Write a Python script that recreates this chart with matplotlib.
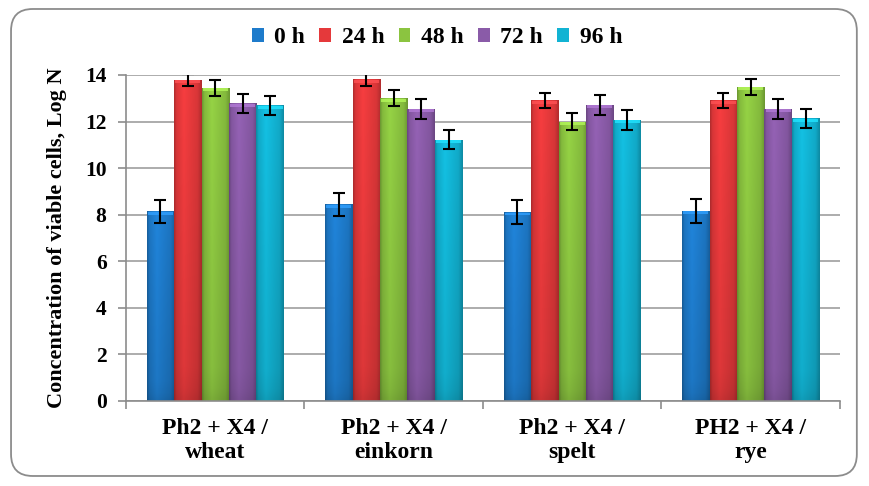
import numpy as np
import matplotlib.pyplot as plt
from matplotlib.patches import FancyBboxPatch, Patch
from matplotlib.colors import to_rgb

groups = ["Ph2 + X4 /\nwheat", "Ph2 + X4 /\neinkorn", "Ph2 + X4 /\nspelt", "PH2 + X4 /\nrye"]
series = ["0 h", "24 h", "48 h", "72 h", "96 h"]
h0 = [8.14, 8.44, 8.11, 8.17]
h24 = [13.79, 13.81, 12.91, 12.91]
h48 = [13.44, 13.00, 12.00, 13.49]
h72 = [12.78, 12.54, 12.73, 12.54]
h96 = [12.69, 11.22, 12.07, 12.14]
e0 = [0.51, 0.50, 0.51, 0.51]
e24 = [0.27, 0.27, 0.31, 0.33]
e48 = [0.35, 0.35, 0.36, 0.35]
e72 = [0.41, 0.41, 0.43, 0.43]
e96 = [0.42, 0.41, 0.43, 0.41]
colors = ["#1E7BCB", "#E5393B", "#8BC440", "#8A5BA8", "#12B3D3"]

values = [h0, h24, h48, h72, h96]
errors = [e0, e24, e48, e72, e96]

plt.rcParams['font.family'] = ['Liberation Serif', 'DejaVu Serif']
plt.rcParams['font.weight'] = 'bold'

fig = plt.figure(figsize=(8.69, 4.86), dpi=100, facecolor="white")
ax = fig.add_axes([0.145, 0.175, 0.8216, 0.6707])

# rounded frame around the whole chart
frame = FancyBboxPatch((0.0127, 0.0206), 0.9733, 0.9609, boxstyle="round,pad=0,rounding_size=0.025",
                       transform=fig.transFigure, facecolor="none", edgecolor="#8C8C8C", lw=1.3,
                       mutation_aspect=869 / 486)
fig.patches.append(frame)

n = len(series)
x = np.arange(len(groups))
w = 1 / (n + 1.5)

# shading profile across the bar width and down its height
xs = np.linspace(0, 1, 40)
fx = np.interp(xs, [0, 0.08, 0.35, 0.85, 1], [0.78, 0.95, 1.08, 0.95, 0.78])
ys = np.linspace(0, 1, 60)
fy = np.interp(ys, [0, 0.9, 0.97, 1], [1.0, 0.9, 0.86, 0.82])

for i in range(n):
    pos = x - 0.5 + 0.75 * w + i * w + w / 2
    bars = ax.bar(pos, values[i], w, color=colors[i], edgecolor="none", zorder=2)
    base = np.array(to_rgb(colors[i]))
    img = np.clip(fy[:, None, None] * fx[None, :, None] * base[None, None, :], 0, 1)
    for b in bars:
        x0 = b.get_x()
        top = b.get_height()
        im = ax.imshow(img, extent=[x0, x0 + w, 0, top], aspect="auto", zorder=2.1,
                       interpolation="bilinear")
        im.set_clip_path(b)
        # bevel highlight at the top
        ax.bar(x0 + w / 2, 0.12, w * 0.92, bottom=top - 0.14,
               color=tuple(np.clip(base * 1.2 + 0.05, 0, 1)), edgecolor="none", zorder=2.2, alpha=0.8)
    ax.errorbar(pos, values[i], yerr=errors[i], fmt="none", ecolor="black", elinewidth=1.5,
                capsize=4, capthick=1.5, zorder=3)

ax.set_xlim(-0.5, len(groups) - 0.5)
ax.set_ylim(0, 14)
ax.set_yticks(np.arange(0, 15, 2))
ax.set_xticks(x)
ax.set_xticklabels(groups, fontsize=17, fontweight="bold", linespacing=1.2)
ax.set_xticks(np.arange(-0.5, len(groups), 1), minor=True)
ax.tick_params(axis="x", which="major", length=0, pad=12)
ax.tick_params(axis="x", which="minor", length=6, color="#8C8C8C", width=1.2)
ax.tick_params(axis="y", length=6, color="#8C8C8C", width=1.2, labelsize=15.5, pad=8)
for lab in ax.get_yticklabels():
    lab.set_fontweight("bold")

ax.grid(axis="y", color="#A6A6A6", lw=1.3, zorder=0)
ax.set_axisbelow(True)
for s in ["top", "right"]:
    ax.spines[s].set_visible(False)
for s in ["left", "bottom"]:
    ax.spines[s].set_color("#8C8C8C")
    ax.spines[s].set_linewidth(1.2)

ax.set_ylabel("Concentration of viable cells, Log N", fontsize=16, fontweight="bold", labelpad=13)

handles = [Patch(facecolor=c, edgecolor="none") for c in colors]
fig.legend(handles, series, loc="center", bbox_to_anchor=(0.503, 0.922), ncol=5, frameon=False,
           prop={"size": 17, "weight": "bold"}, handlelength=0.5, handleheight=0.5,
           handletextpad=0.45, columnspacing=0.6)

plt.savefig("out.png", dpi=100, facecolor="white")
